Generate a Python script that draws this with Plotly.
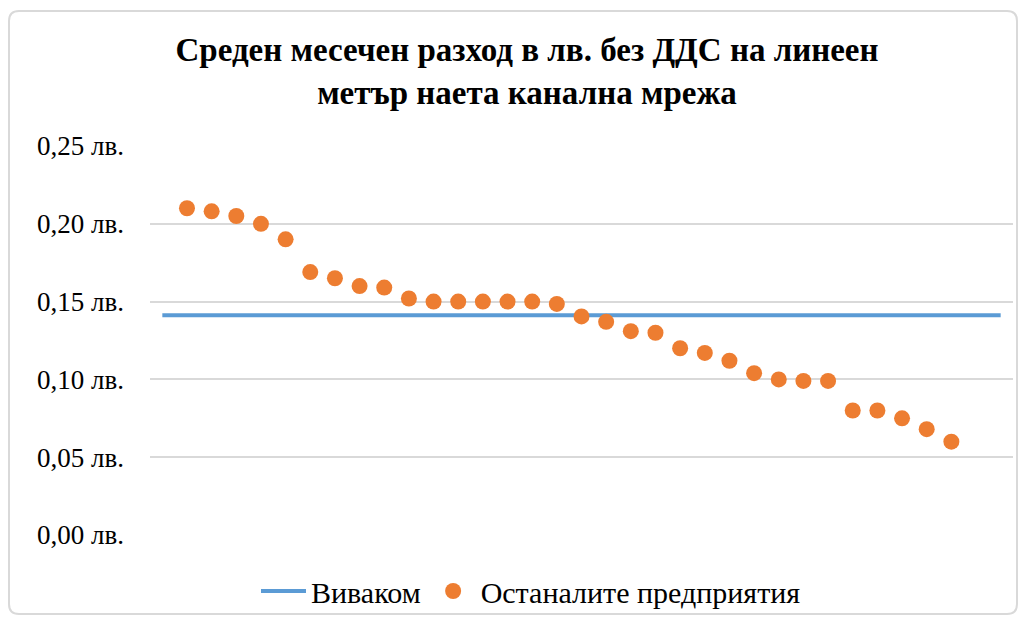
import plotly.graph_objects as go

# Data
company_idx = list(range(1, 33))
other_costs = [0.210, 0.208, 0.205, 0.200, 0.190, 0.169, 0.165, 0.160,
               0.159, 0.152, 0.150, 0.150, 0.150, 0.150, 0.150, 0.1485,
               0.1405, 0.137, 0.131, 0.130, 0.120, 0.117, 0.112, 0.104,
               0.100, 0.099, 0.099, 0.080, 0.080, 0.075, 0.068, 0.060]
vivacom_x = [0, 34]
vivacom_cost = [0.1412, 0.1412]
y_ticks = [0.00, 0.05, 0.10, 0.15, 0.20, 0.25]
y_tick_labels = ["0,00 лв.", "0,05 лв.", "0,10 лв.", "0,15 лв.", "0,20 лв.", "0,25 лв."]

FONT = "Liberation Serif"

# page body has an 8px margin, so the figure is drawn 8px smaller
W, H = 1011, 608
L, T, PW, PH = 142, 138, 863, 389

# rounded chart border in paper units (kept inside the figure)
x0, x1 = (1 - L) / PW, (1009 - L) / PW
y0, y1 = -(606 - T - PH) / PH, 1 + (T - 3) / PH
rx, ry = 10 / PW, 10 / PH
border = (f"M {x0+rx},{y1} L {x1-rx},{y1} Q {x1},{y1} {x1},{y1-ry} "
          f"L {x1},{y0+ry} Q {x1},{y0} {x1-rx},{y0} L {x0+rx},{y0} "
          f"Q {x0},{y0} {x0},{y0+ry} L {x0},{y1-ry} Q {x0},{y1} {x0+rx},{y1} Z")

fig = go.Figure()
fig.add_trace(go.Scatter(
    x=vivacom_x, y=vivacom_cost,
    mode="lines",
    name="Виваком",
    line=dict(color="#5B9BD5", width=4),
))
fig.add_trace(go.Scatter(
    x=company_idx, y=other_costs,
    mode="markers",
    name="Останалите предприятия",
    marker=dict(color="#ED7D31", size=16),
))

fig.update_layout(
    width=W, height=H,
    paper_bgcolor="white",
    plot_bgcolor="white",
    margin=dict(l=L, r=W - L - PW, t=T, b=H - T - PH, autoexpand=False),
    title=dict(
        text="Среден месечен разход в лв. без ДДС на линеен<br>метър наета канална мрежа",
        x=519 / W, xanchor="center",
        yref="container", y=1 - 53 / H, yanchor="top",
        font=dict(family=FONT, size=33, color="black", weight=700),
    ),
    font=dict(family=FONT, size=27, color="black"),
    xaxis=dict(
        range=[-0.5, 34.5],
        showgrid=False, zeroline=False,
        showticklabels=False, ticks="",
        showline=False,
    ),
    yaxis=dict(
        range=[0, 0.25],
        tickvals=y_ticks, ticktext=y_tick_labels,
        showgrid=True, gridcolor="#D9D9D9", gridwidth=1.5,
        zeroline=False, showline=False,
        ticks="", ticklabelstandoff=25,
        tickfont=dict(family=FONT, size=27, color="black"),
    ),
    legend=dict(
        orientation="h",
        x=(523 - L) / PW, xanchor="center",
        y=-56 / PH, yanchor="middle",
        bgcolor="rgba(0,0,0,0)",
        font=dict(family=FONT, size=30, color="black"),
        itemwidth=45,
        tracegroupgap=0,
    ),
    shapes=[dict(
        type="path", xref="paper", yref="paper",
        path=border,
        line=dict(color="#D9D9D9", width=2),
        layer="below",
    )],
)

fig.write_html("out.html")
